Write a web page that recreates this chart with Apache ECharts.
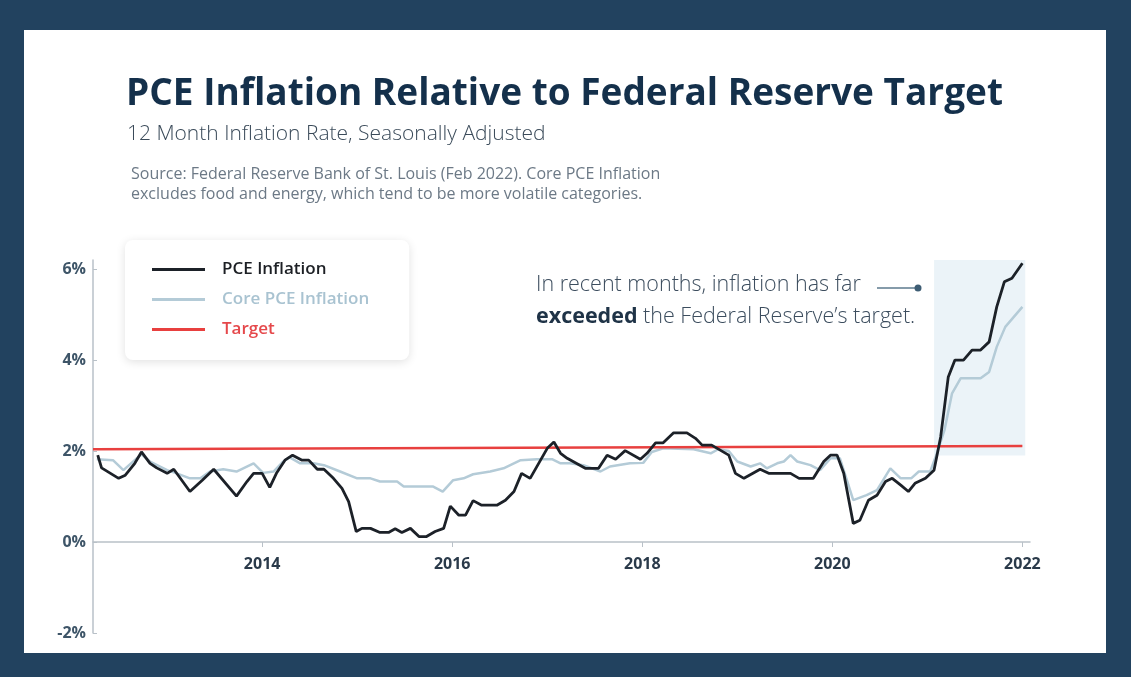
<!DOCTYPE html>
<html>
<head>
<meta charset="utf-8">
<script src="https://cdn.jsdelivr.net/npm/echarts@6/dist/echarts.min.js"></script>
<style>
  html, body { margin: 0; padding: 0; background: #22425f; }
  #frame { position: absolute; left: 24px; top: 30px; width: 1082px; height: 623px; background: #fff; }
  #chart { position: absolute; left: 0; top: 0; width: 1131px; height: 677px; }
</style>
</head>
<body>
<div id="frame"></div>
<div id="chart"></div>
<script>
// monthly readings, x in decimal years
const pceX = [2012.27, 2012.31, 2012.49, 2012.56, 2012.66, 2012.73, 2012.82, 2012.89, 2013.00, 2013.07,
  2013.24, 2013.37, 2013.49, 2013.73, 2013.84, 2013.91, 2014.00, 2014.08, 2014.15, 2014.24,
  2014.32, 2014.42, 2014.49, 2014.58, 2014.65, 2014.75, 2014.84, 2014.91, 2014.99, 2015.05,
  2015.14, 2015.24, 2015.33, 2015.40, 2015.47, 2015.56, 2015.65, 2015.73, 2015.82, 2015.91,
  2015.98, 2016.07, 2016.14, 2016.22, 2016.31, 2016.47, 2016.56, 2016.65, 2016.73, 2016.82,
  2016.91, 2017.00, 2017.07, 2017.14, 2017.21, 2017.40, 2017.54, 2017.63, 2017.72, 2017.82,
  2017.98, 2018.05, 2018.14, 2018.22, 2018.33, 2018.47, 2018.56, 2018.63, 2018.73, 2018.91,
  2018.98, 2019.07, 2019.24, 2019.33, 2019.56, 2019.65, 2019.80, 2019.91, 2019.98, 2020.05,
  2020.12, 2020.22, 2020.29, 2020.38, 2020.47, 2020.56, 2020.63, 2020.72, 2020.80, 2020.87,
  2020.98, 2021.07, 2021.14, 2021.22, 2021.29, 2021.38, 2021.47, 2021.56, 2021.65, 2021.73,
  2021.81, 2021.89, 2022.00];
const pce = [1.91, 1.63, 1.40, 1.47, 1.73, 1.98, 1.73, 1.63, 1.51, 1.60,
  1.11, 1.36, 1.60, 1.01, 1.33, 1.51, 1.51, 1.20, 1.51, 1.80,
  1.91, 1.80, 1.80, 1.60, 1.60, 1.40, 1.18, 0.89, 0.23, 0.30,
  0.30, 0.21, 0.21, 0.29, 0.21, 0.30, 0.12, 0.12, 0.23, 0.30,
  0.79, 0.59, 0.59, 0.91, 0.81, 0.81, 0.92, 1.11, 1.51, 1.40,
  1.73, 2.06, 2.20, 1.95, 1.84, 1.62, 1.62, 1.91, 1.82, 2.01,
  1.82, 1.95, 2.18, 2.18, 2.40, 2.40, 2.28, 2.13, 2.13, 1.91,
  1.51, 1.40, 1.60, 1.51, 1.51, 1.40, 1.40, 1.77, 1.91, 1.91,
  1.51, 0.41, 0.48, 0.92, 1.03, 1.33, 1.40, 1.25, 1.11, 1.29,
  1.40, 1.58, 2.31, 3.63, 4.00, 4.00, 4.22, 4.22, 4.40, 5.17,
  5.72, 5.80, 6.13];

const coreX = [2012.26, 2012.43, 2012.54, 2012.73, 2012.82, 2013.00, 2013.10, 2013.24, 2013.35, 2013.45,
  2013.59, 2013.73, 2013.91, 2014.01, 2014.12, 2014.22, 2014.29, 2014.40, 2014.54, 2014.65,
  2014.82, 2015.00, 2015.14, 2015.24, 2015.42, 2015.49, 2015.80, 2015.90, 2016.01, 2016.12,
  2016.22, 2016.40, 2016.54, 2016.72, 2016.89, 2017.05, 2017.14, 2017.24, 2017.38, 2017.56,
  2017.66, 2017.87, 2018.01, 2018.10, 2018.22, 2018.54, 2018.72, 2018.80, 2018.91, 2019.00,
  2019.14, 2019.24, 2019.31, 2019.42, 2019.49, 2019.56, 2019.63, 2019.77, 2019.87, 2019.98,
  2020.08, 2020.22, 2020.36, 2020.47, 2020.61, 2020.72, 2020.83, 2020.91, 2021.03, 2021.10,
  2021.18, 2021.26, 2021.35, 2021.56, 2021.65, 2021.73, 2021.82, 2021.91, 2022.00];
const core = [1.82, 1.80, 1.58, 1.93, 1.77, 1.58, 1.51, 1.40, 1.40, 1.55,
  1.60, 1.55, 1.73, 1.52, 1.55, 1.77, 1.86, 1.73, 1.73, 1.69,
  1.55, 1.40, 1.40, 1.33, 1.33, 1.22, 1.22, 1.11, 1.36, 1.40,
  1.49, 1.55, 1.62, 1.80, 1.82, 1.82, 1.73, 1.73, 1.69, 1.55,
  1.66, 1.73, 1.74, 1.98, 2.06, 2.04, 1.95, 2.04, 2.00, 1.77,
  1.66, 1.73, 1.62, 1.73, 1.77, 1.91, 1.77, 1.69, 1.58, 1.84,
  1.84, 0.92, 1.03, 1.14, 1.62, 1.40, 1.40, 1.55, 1.55, 1.95,
  2.46, 3.27, 3.60, 3.60, 3.74, 4.29, 4.73, 4.95, 5.17];

const targetX = [2012.22, 2022.0];
const target = [2.04, 2.11];

const yearTicks = [2014, 2016, 2018, 2020, 2022];
const pctTicks = [-2, 0, 2, 4, 6];
const highlight = [2021.07, 2022.03, 1.9, 6.35];

const zip = (xs, ys) => xs.map((x, i) => [x, ys[i]]);

const chart = echarts.init(document.getElementById('chart'));
chart.setOption({
  animation: false,
  textStyle: { fontFamily: 'Open Sans' },
  grid: { left: 93, right: 101, top: 260, bottom: 44 },
  xAxis: {
    type: 'value',
    min: 2012.22,
    max: 2022.08,
    position: 'bottom',
    offset: -91,
    splitLine: { show: false },
    axisLine: { onZero: false, lineStyle: { color: '#b9c1c8', width: 1.5 } },
    axisTick: { show: true, customValues: yearTicks, length: 5, lineStyle: { color: '#b9c1c8' } },
    axisLabel: {
      customValues: yearTicks,
      formatter: v => String(v),
      color: '#2a3a4a',
      fontWeight: 'bold',
      fontSize: 16,
      margin: 14
    }
  },
  yAxis: {
    type: 'value',
    min: -2,
    max: 6.2,
    splitLine: { show: false },
    axisLine: { show: true, lineStyle: { color: '#b9c1c8', width: 1.5 } },
    axisTick: { show: true, inside: true, customValues: pctTicks, length: 4, lineStyle: { color: '#b9c1c8' } },
    axisLabel: {
      customValues: pctTicks,
      formatter: v => v + '%',
      color: '#3e5568',
      fontWeight: 'bold',
      fontSize: 16,
      margin: 7
    }
  },
  legend: {
    left: 125,
    top: 240,
    orient: 'vertical',
    itemGap: 13,
    itemWidth: 53,
    itemHeight: 3,
    icon: 'rect',
    padding: [21, 40, 22, 27],
    backgroundColor: '#fff',
    borderRadius: 8,
    shadowBlur: 10,
    shadowColor: 'rgba(0,0,0,0.12)',
    shadowOffsetY: 2,
    textStyle: { fontSize: 17, fontWeight: 600, padding: [0, 0, 0, 12] },
    data: [
      { name: 'PCE Inflation', textStyle: { color: '#1c1f24' } },
      { name: 'Core PCE Inflation', textStyle: { color: '#a9c3d1' } },
      { name: 'Target', textStyle: { color: '#e5484b' } }
    ]
  },
  series: [
    {
      name: 'Target',
      type: 'line',
      data: zip(targetX, target),
      symbol: 'none',
      z: 3,
      lineStyle: { color: '#e8403f', width: 2.5 },
      itemStyle: { color: '#e8403f' }
    },
    {
      name: 'Core PCE Inflation',
      type: 'line',
      data: zip(coreX, core),
      symbol: 'none',
      z: 2,
      lineStyle: { color: '#b4cbd7', width: 2.5 },
      itemStyle: { color: '#b4cbd7' },
      markArea: {
        silent: true,
        itemStyle: { color: 'rgba(218,234,242,0.55)' },
        data: [[{ xAxis: highlight[0], yAxis: highlight[2] }, { xAxis: highlight[1], yAxis: highlight[3] }]]
      }
    },
    {
      name: 'PCE Inflation',
      type: 'line',
      data: zip(pceX, pce),
      symbol: 'none',
      z: 4,
      lineStyle: { color: '#1c2128', width: 2.8 },
      itemStyle: { color: '#1c2128' }
    }
  ],
  graphic: [
    {
      type: 'text', left: 126, top: 76,
      style: { text: 'PCE Inflation Relative to Federal Reserve Target', fill: '#14304b', font: 'bold 37px "Open Sans"' }
    },
    {
      type: 'text', left: 127, top: 124,
      style: { text: '12 Month Inflation Rate, Seasonally Adjusted', fill: '#3b4b5a', font: '300 21px "Open Sans"' }
    },
    {
      type: 'text', left: 131, top: 164,
      style: { text: 'Source: Federal Reserve Bank of St. Louis (Feb 2022). Core PCE Inflation\nexcludes food and energy, which tend to be more volatile categories.',
        fill: '#6c7986', font: '16px "Open Sans"', lineHeight: 20 }
    },
    {
      type: 'text', left: 536, top: 274,
      style: { text: 'In recent months, inflation has far', fill: '#3c4d5e', font: '300 21.5px "Open Sans"' }
    },
    {
      type: 'text', left: 536, top: 306,
      style: {
        text: '{b|exceeded} the Federal Reserve\u2019s target.',
        fill: '#3c4d5e', font: '300 21.5px "Open Sans"',
        rich: { b: { fontWeight: 'bold', fill: '#1f3347', fontSize: 21.5, fontFamily: 'Open Sans' } }
      }
    },
    {
      type: 'line', shape: { x1: 877, y1: 288, x2: 916, y2: 288 },
      style: { stroke: '#5c7a8e', lineWidth: 1.5 }
    },
    {
      type: 'circle', shape: { cx: 918, cy: 288, r: 3.5 },
      style: { fill: '#3e5d74' }
    }
  ]
});
</script>
</body>
</html>
